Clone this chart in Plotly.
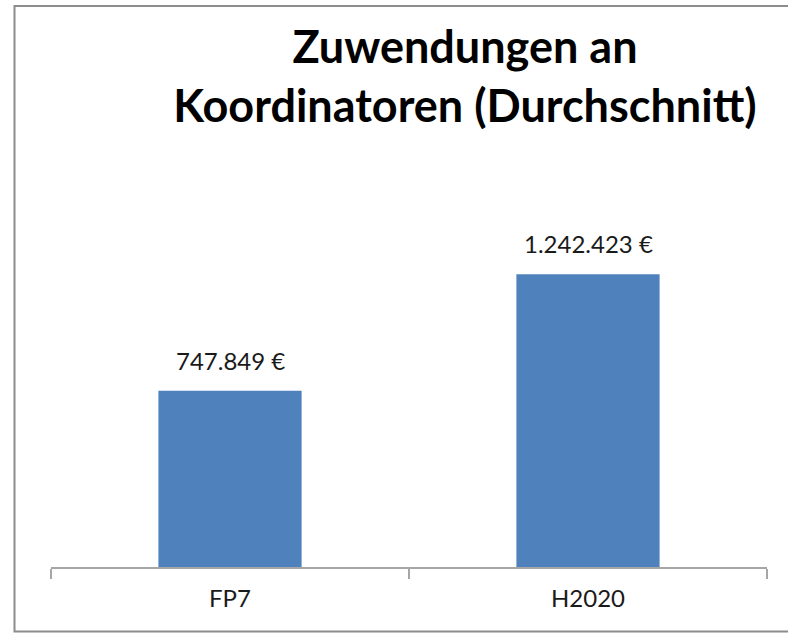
import plotly.graph_objects as go

categories = ["FP7", "H2020"]
values = [747849, 1242423]
value_labels = ["747.849 €", "1.242.423 €"]
title_lines = ["Zuwendungen an", "Koordinatoren (Durchschnitt)"]

W, H = 788, 633
ml, mr, mt, mb = 51, 21, 180, 66
plot_w = W - ml - mr
plot_h = H - mt - mb
px_per_unit = 2.356e-4
ymax = plot_h / px_per_unit

fig = go.Figure()
fig.add_trace(go.Bar(
    x=categories, y=values,
    marker=dict(color="#4F81BD", line=dict(width=0)),
    hoverinfo="skip",
))

for c, v, t in zip(categories, values, value_labels):
    fig.add_annotation(
        x=c, y=v, text=t, showarrow=False,
        xanchor="center", yanchor="bottom", yshift=14,
        font=dict(family="Lato", size=24, color="#1a1a1a"),
    )

# outer chart border
def px_to_paper_x(px):
    return (px - ml) / plot_w

def px_to_paper_y(py):
    return (H - mb - py) / plot_h

fig.add_shape(
    type="rect", xref="paper", yref="paper",
    x0=px_to_paper_x(14.5), x1=px_to_paper_x(800),
    y0=px_to_paper_y(631.5), y1=px_to_paper_y(6),
    line=dict(color="#8c8c8c", width=2), fillcolor="rgba(0,0,0,0)",
    layer="below",
)

fig.update_layout(
    width=W, height=H,
    margin=dict(l=ml, r=mr, t=mt, b=mb, autoexpand=False),
    paper_bgcolor="white", plot_bgcolor="white",
    bargap=0.6,
    showlegend=False,
    title=dict(
        text="<br>".join(title_lines),
        x=465 / W, xanchor="center", xref="container",
        y=1 - 63 / H, yanchor="top", yref="container",
        font=dict(family="Lato", size=45, color="#000000", weight="bold"),
    ),
    xaxis=dict(
        showline=True, linecolor="#a6a6a6", linewidth=1.5,
        ticks="outside", ticklen=10, tickcolor="#a6a6a6", tickwidth=1.5,
        tickson="boundaries", showgrid=False, zeroline=False,
        ticklabelstandoff=9,
        tickfont=dict(family="Lato", size=24, color="#1a1a1a"),
    ),
    yaxis=dict(
        range=[0, ymax], visible=False, showgrid=False, zeroline=False,
    ),
)

fig.write_html(
    "out.html",
    config={"displayModeBar": False},
    post_script="document.body.style.margin='0';",
)
